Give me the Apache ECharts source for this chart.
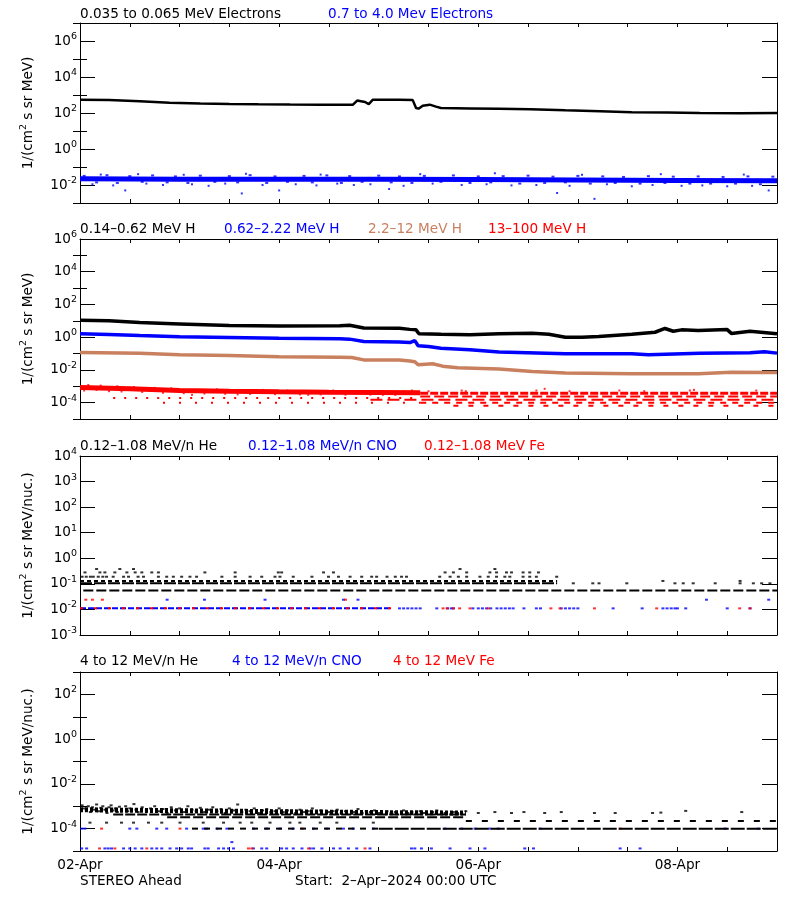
<!DOCTYPE html>
<html><head><meta charset="utf-8">
<script src="https://cdn.jsdelivr.net/npm/echarts@6/dist/echarts.min.js"></script>
<style>html,body{margin:0;padding:0;background:#fff}#c{width:800px;height:900px}</style>
</head><body><div id="c"></div>
<script>
// ================= DATA (hours since 2-Apr-2024 00:00 UTC, values in 1/(cm2 s sr MeV[/nuc]) ) =================
// Panel 1: electrons
const elecLoH = [0,7,14.4,21.6,29,36,43,50.6,58,64,65.8,66.8,68.7,69.6,70.6,77,80.2,81,81.6,82.6,84.3,85.8,87,94,101,108.5,117,125.4,133,141.5,149.4,159,168];
const elecLoV = [550,520,450,370,340,318,305,295,290,290,290,490,410,310,550,550,520,190,174,255,290,225,190,180,170,160,140,125,110,105,100,98,100];
const elecHiH = [0,24,48,72,96,120,144,168];
const elecHiV = [0.022,0.021,0.021,0.021,0.020,0.019,0.018,0.017];
const elecHiOutH = [10.9,39,48,74.5,115,124,166,3,8,16,20,27,31,35,44,52,57,62,66,70,78,85,92,98,104,110,118,127,133,138,145,150,156,162,5,14,25,40,58,82,100,121,140,160];
const elecHiOutV = [0.005,0.0034,0.005,0.006,0.0036,0.0017,0.005,0.011,0.0095,0.012,0.01,0.011,0.009,0.012,0.01,0.011,0.0095,0.012,0.01,0.011,0.009,0.012,0.01,0.011,0.0095,0.01,0.009,0.011,0.0085,0.01,0.009,0.0095,0.0085,0.009,0.038,0.04,0.037,0.042,0.038,0.04,0.045,0.037,0.04,0.038];
const elecHiSpkH = [1,4,6.5,9,12,15,17.5,21,23,26,29,32.5,36,38,41,45,47,50,54,56,59.5,63,65,68,72,75,77,80,83,87,90,94,96,99,102,106,108,112,114,117,120,123,126,129,131,135,137,141,143,147,149,152,155,158,161,164,167];
const elecHiSpkV = [0.032,0.014,0.035,0.013,0.031,0.015,0.034,0.014,0.03,0.013,0.033,0.015,0.031,0.014,0.035,0.013,0.03,0.015,0.032,0.014,0.034,0.013,0.031,0.015,0.033,0.014,0.03,0.013,0.032,0.015,0.034,0.013,0.03,0.014,0.031,0.012,0.033,0.013,0.029,0.014,0.032,0.012,0.03,0.013,0.028,0.012,0.031,0.013,0.029,0.012,0.03,0.012,0.028,0.012,0.03,0.011,0.029];

// Panel 2: protons
const hLoH = [0,7,14.4,24,36,48,62.6,65,68.4,77,79.5,81,81.7,87,94,101,109,113,117,121,125,133,138.6,141,143,145,149,156,157,161.5,168];
const hLoV = [11,10,7.8,6.5,5.1,4.8,5.0,5.4,3.6,3.5,3.0,2.8,1.6,1.5,1.4,1.6,1.75,1.5,1.0,1.0,1.1,1.5,2.0,3.4,2.3,2.8,2.6,2.9,1.7,2.3,1.6];
const hMidH = [0,7,14.4,24,36,48,62.6,65,68.4,77,79.5,80.7,81.5,84,87,94,101,117,133,137,149.4,161.5,165,168];
const hMidV = [1.6,1.45,1.25,1.05,0.95,0.85,0.8,0.76,0.55,0.5,0.47,0.62,0.3,0.27,0.21,0.17,0.125,0.098,0.096,0.085,0.106,0.112,0.13,0.106];
const hHiH = [0,14.4,24,36,48,62.6,65.5,68.4,77,79.5,80.7,81.5,85,87.4,91,101,109,117,133,149,157,168];
const hHiV = [0.115,0.106,0.085,0.075,0.063,0.060,0.057,0.041,0.040,0.035,0.032,0.0205,0.024,0.017,0.0135,0.0112,0.008,0.0064,0.0058,0.0058,0.0073,0.007];
const hTopBandH = [0,12,24,36,48,60,72,82];
const hTopBandV = [8.5e-4,7e-4,5.5e-4,5e-4,4.6e-4,4.3e-4,4.2e-4,4e-4];
const hTopRowLevel = [3.8e-4,2.4e-4,1.5e-4,1.0e-4,6.5e-5,1.9e-4,1.0e-4];
const hTopRowStart = [82,82,70,82,90,8,20];
const hTopRowEnd   = [168,168,168,168,168,82,82];
const hTopSpkH = [2,5,9,13,18,22,27,33,38,44,50,55,61,67,73,78,80,84,92,93,110,112,118,130,136,147,148,163,1,4,7,10,15,20,25,30,35,41,47,53,58,64,70,76];
const hTopSpkV = [1.2e-3,1.1e-3,1.0e-3,9e-4,8e-4,7.5e-4,3e-4,6.5e-4,3.2e-4,6e-4,5.5e-4,3e-4,5.5e-4,5e-4,3e-4,5e-4,5.5e-4,5e-4,5.5e-4,5e-4,5.5e-4,7e-4,5e-4,5.5e-4,5e-4,5.5e-4,6e-4,5.5e-4,5.5e-4,6e-4,5e-4,4.8e-4,4.5e-4,4e-4,3.8e-4,3.6e-4,3.5e-4,3.4e-4,3.3e-4,3.2e-4,3.2e-4,3.1e-4,3.1e-4,3e-4];

// Panel 3: 0.12-1.08 MeV/n heavy ions
const heLowRowLevel = [0.055,0.105,0.13];
const heLowRowStart = [0.8,0,0];
const heLowRowEnd   = [168,115,115];
const heLow105H = [118.9,123.6,125.1,131.8,143.4,145.4,147.8,153.1,159.1,162.3,164.3,166.3];
const heLow013H = [140.5,159.1];
const heLow019H = [0.5,1.5,2.5,3.2,4.4,5.5,6.4,8,10.5,11.7,14,15.3,18.9,20.9,22.5,24.5,26.5,28.1,34.2,37.4,41,43.8,47,48.2,51.4,55.9,59.9,62.3,65.1,67.9,70.3,71.5,74,76,77.5,78.7,86.7,89.2,91.2,93.2,96.4,98.4,100.4,102.4,103.6,106.8,108.4,110,114.9];
const heLow028H = [1.2,4.8,6,8.4,11.3,13.3,14.9,17.3,18.9,30.1,37.4,47.8,48.6,58.7,61.1,88,90,93.2,98.8,100.4,102.8,104,106.8,108.4,110.5];
const heLow038H = [4,9.6,12.9,91.6,100];
const cnoLowDense = [0,75];          // hours with near-continuous 0.011 points
const cnoLow011H = [77,78,79,80,81,82,86,88.6,89.5,90,94.7,96,97,98,99,100.5,101.5,102.5,103.5,104.4,107,110,111,116,117,118,119,120,128.5,135.5,140.5,141.5,142.5,143.4,144,146,156,161.5];
const cnoLow024H = [21,30,44.6,63.5,67,151,166];
const feLow011H = [87.5,88.5,90,91.5,94,98.4,113.5,115.7,124,139,159,161.5];
const feLow024H = [1.4,3,5.4,64];

// Panel 4: 4-12 MeV/n heavy ions
const heHiBandH = [0,24,48,72,93];
const heHiBandV = [7e-4,6.3e-4,5.7e-4,5.2e-4,5e-4];
const heHiCloudH = [0.5,1,1.5,2,2.5,3,3.5,4,4.5,5,5.5,6,6.5,7,7.5,8,8.5,9,9.5,10,11,11.5,12,13,13.5,14,15,16,17,18,19,20,21,22,23,24,25,26,27,28,29,30,31,32,33,34,35,36,37,38,39,40,41,42,43,44,45,46,47,48,49,50,52,53,54,55,56,57,58,60,61,62,63,64,66,67,68,69,70,71,72,74,75,76,78,79,80,82,83,85,86,88,90,91,93,96,100,104,107,112,116,124,129,138,140,146,159.5];
const heHiCloudV = [1.1e-3,8e-4,6.5e-4,1.0e-3,5.5e-4,9e-4,7e-4,1.2e-3,6e-4,8.5e-4,1.0e-3,7e-4,5e-4,9e-4,1.1e-3,6.5e-4,8e-4,5.5e-4,9.5e-4,7e-4,1.0e-3,6e-4,8e-4,1.25e-3,7e-4,5.5e-4,9e-4,6.5e-4,8e-4,1.0e-3,6e-4,7.5e-4,5e-4,9e-4,6.5e-4,8e-4,5.5e-4,1.0e-3,7e-4,6e-4,8.5e-4,5.5e-4,7e-4,9e-4,6e-4,7.5e-4,5e-4,8e-4,6.5e-4,1.2e-3,5.5e-4,7e-4,6e-4,8e-4,5e-4,6.5e-4,7.5e-4,5.5e-4,6e-4,8e-4,5.5e-4,6.5e-4,5e-4,7e-4,5.5e-4,6e-4,8e-4,5e-4,6.5e-4,5.5e-4,6e-4,7e-4,5e-4,6e-4,5.5e-4,7.5e-4,5e-4,6e-4,5.5e-4,6.5e-4,5e-4,6e-4,5e-4,5.5e-4,6.5e-4,5e-4,5.5e-4,6e-4,5e-4,5.5e-4,6.5e-4,5e-4,5.5e-4,5e-4,6e-4,5e-4,5.5e-4,5e-4,5.5e-4,5e-4,5.5e-4,5e-4,5e-4,5e-4,5.2e-4,6.2e-4,5.5e-4];
const heHiRowLevel = [4.3e-4,3.2e-4,2.2e-4,1.0e-4,1.0e-4];
const heHiRowStart = [8,21,93,27,72];
const heHiRowEnd   = [93,93,168,72,168];
const heHi185H = [2.4,6.4,10,12.9,16.5,19.7,24.1,29.7,34.6,38.6,41.4,45.8,50.6,53,57.9,61.9,70.7];
const cnoHi1e4H = [0.4,1.2,12,13.7,18.5,20.9,25.7,29.7,30.5,33,35.4,41.8,45,48.2,51.4,56.3,59.5,63.5,65.9,70.7,88,92,95.2,98.8,100.8,110.9,155.5,163.5];
const cnoHi13H = [0.4,1.6,6,6.8,7.6,10.5,12,13.3,14.9,17.3,18.5,19.7,21.7,23.3,24.5,26.1,26.9,30.1,30.9,33.4,34.6,35.8,37,41.8,43.8,45,48.6,49.8,51.4,53.5,55.5,56.3,58.3,61.1,62.7,64.7,66.7,69.9,79.9,80.7,82.3,84.7,89.2,94,97.6,107.2,109.3,130.2,135];
const cnoHi25H = [36.6];
const feHi1e4H = [5.2,24.1,53.5,130.2];
const feHi13H = [4.7,8.4,16.1,40.6,41.4,55.1,68.7];

const dayTicks = [0,48,96,144];
const dayLabels = ['02-Apr','04-Apr','06-Apr','08-Apr'];

// ================= CHART =================
const FONT = '"DejaVu Sans", sans-serif';
const FS = 13.6;
const BLUE = '#0000ff', RED = '#ff0000', BROWN = '#c9805f', BLACK = '#000000';
const L = Math.log10;
const toPts = (hs, vs) => hs.map((h, i) => [h, L(vs[i])]);
const flat = (hs, v) => hs.map(h => [h, L(v)]);
const seg = (a, b, v) => [[a, L(v)], [b, L(v)]];

const panels = [
  {top: 23,  height: 180, min: -3, max: 7, major: [-2,0,2,4,6],           minor: [-3,-1,1,3,5,7], unit: 'MeV'},
  {top: 239, height: 180, min: -5, max: 6, major: [-4,-2,0,2,4,6],        minor: [-5,-3,-1,1,3,5], unit: 'MeV'},
  {top: 456, height: 179, min: -3, max: 4, major: [-3,-2,-1,0,1,2,3,4],   minor: [], unit: 'MeV/nuc.'},
  {top: 672, height: 179, min: -5, max: 3, major: [-4,-2,0,2],            minor: [-5,-3,-1,1,3], unit: 'MeV/nuc.'}
];

const rich = {
  b: {fontFamily: FONT, fontSize: FS, color: BLACK},
  n: {fontFamily: FONT, fontSize: FS, color: BLACK},
  e: {fontFamily: FONT, fontSize: 9.5, color: BLACK, padding: [0, 0, 9, 0]}
};

const grids = [], xAxes = [], yAxes = [];
panels.forEach((p, i) => {
  grids.push({left: 80, width: 697, top: p.top, height: p.height});
  const xBase = {
    gridIndex: i, type: 'value', min: 0, max: 168, interval: 12,
    axisLine: {show: true, onZero: false, lineStyle: {color: BLACK, width: 1}},
    axisTick: {show: true, inside: true, length: 4, lineStyle: {color: BLACK}},
    splitLine: {show: false}
  };
  xAxes.push(Object.assign({}, xBase, {
    position: 'bottom',
    axisLabel: i === 3 ? {
      show: true, customValues: dayTicks, margin: 7, color: BLACK, fontFamily: FONT, fontSize: FS,
      formatter: v => dayLabels[dayTicks.indexOf(Math.round(v))] || ''
    } : {show: false}
  }));
  xAxes.push(Object.assign({}, xBase, {position: 'top', axisLabel: {show: false}}));

  const yBase = {gridIndex: i, type: 'value', min: p.min, max: p.max, interval: 1,
    splitLine: {show: false}, axisLine: {show: true, onZero: false, lineStyle: {color: BLACK, width: 1}}};
  const major = side => Object.assign({}, yBase, {
    position: side,
    axisTick: {show: true, inside: true, length: 15, customValues: p.major, lineStyle: {color: BLACK}},
    axisLabel: side === 'left' ? {show: true, customValues: p.major, margin: 3, rich: rich,
      formatter: v => '{b|10}{e|' + Math.round(v) + '}'} : {show: false}
  });
  const minor = side => Object.assign({}, yBase, {
    position: side, axisLine: {show: false},
    axisTick: p.minor.length ? {show: true, inside: true, length: 7, customValues: p.minor, lineStyle: {color: BLACK}} : {show: false},
    axisLabel: {show: false}
  });
  const left = major('left');
  left.name = '{n|1/(cm}{e|2}{n| s sr ' + p.unit + ')}';
  left.nameLocation = 'middle';
  left.nameGap = 42;
  left.nameRotate = 90;
  left.nameTextStyle = {fontFamily: FONT, fontSize: FS, color: BLACK, rich: rich};
  yAxes.push(left, minor('left'), major('right'), minor('right'));
});

const series = [];
function addLine(g, data, color, width, dash) {
  series.push({type: 'line', xAxisIndex: 2 * g, yAxisIndex: 4 * g, data: data, symbol: 'none',
    silent: true, animation: false, lineStyle: {color: color, width: width, type: dash || 'solid', cap: 'butt'}});
}
function addPts(g, data, color, size) {
  series.push({type: 'scatter', xAxisIndex: 2 * g, yAxisIndex: 4 * g, data: data, symbol: 'rect',
    symbolSize: size || [2, 2], silent: true, animation: false, itemStyle: {color: color}});
}

// Panel 1
addLine(0, toPts(elecHiH, elecHiV), BLUE, 5);
addPts(0, toPts(elecHiSpkH, elecHiSpkV), BLUE, [3, 2]);
addPts(0, toPts(elecHiOutH, elecHiOutV), BLUE, [2, 2]);
addLine(0, toPts(elecLoH, elecLoV), BLACK, 2.5);

// Panel 2
addLine(1, toPts(hTopBandH, hTopBandV), RED, 5);
const redRowStyle = [[3, [8, 2]], [2, [10, 4]], [2, [12, 5]], [2, [6, 6]], [2, [5, 10]], [2, [2, 9]], [2, [2, 14]]];
hTopRowLevel.forEach((v, k) => addLine(1, seg(hTopRowStart[k], hTopRowEnd[k], v), RED, redRowStyle[k][0], redRowStyle[k][1]));
addPts(1, toPts(hTopSpkH, hTopSpkV), RED, [2, 2]);
addLine(1, toPts(hHiH, hHiV), BROWN, 3.5);
addLine(1, toPts(hMidH, hMidV), BLUE, 3.5);
addLine(1, toPts(hLoH, hLoV), BLACK, 3.5);

// Panel 3
const heRowStyle = [[2, [10, 3]], [2, [12, 2]], [2, [4, 3]]];
heLowRowLevel.forEach((v, k) => addLine(2, seg(heLowRowStart[k], heLowRowEnd[k], v), BLACK, heRowStyle[k][0], heRowStyle[k][1]));
addPts(2, flat(heLow105H, 0.105), BLACK, [3, 2]);
addPts(2, flat(heLow013H, 0.13), BLACK, [3, 2]);
addPts(2, flat(heLow019H, 0.19), BLACK, [3, 2]);
addPts(2, flat(heLow028H, 0.28), BLACK, [3, 2]);
addPts(2, flat(heLow038H, 0.38), BLACK, [3, 2]);
addLine(2, seg(cnoLowDense[0], cnoLowDense[1], 0.011), BLUE, 2, [6, 2]);
addLine(2, seg(cnoLowDense[0], cnoLowDense[1], 0.011), RED, 2, [3, 11]);
addPts(2, flat(cnoLow011H, 0.011), BLUE, [3, 2]);
addPts(2, flat(cnoLow024H, 0.024), BLUE, [3, 2]);
addPts(2, flat(feLow011H, 0.011), RED, [3, 2]);
addPts(2, flat(feLow024H, 0.024), RED, [3, 2]);

// Panel 4
addLine(3, toPts(heHiBandH, heHiBandV), BLACK, 5, [3, 2]);
addPts(3, toPts(heHiCloudH, heHiCloudV), BLACK, [3, 2]);
const heHiRowStyle = [[2, [10, 2]], [2, [10, 3]], [2, [6, 10]], [2, [6, 6]], [2, [14, 2]]];
heHiRowLevel.forEach((v, k) => addLine(3, seg(heHiRowStart[k], heHiRowEnd[k], v), BLACK, heHiRowStyle[k][0], heHiRowStyle[k][1]));
addPts(3, flat(heHi185H, 1.85e-4), BLACK, [3, 2]);
addPts(3, flat(cnoHi1e4H, 1.0e-4), BLUE, [3, 2]);
addPts(3, flat(cnoHi13H, 1.3e-5), BLUE, [3, 2]);
addPts(3, flat(cnoHi25H, 2.5e-5), BLUE, [3, 2]);
addPts(3, flat(feHi1e4H, 1.0e-4), RED, [3, 2]);
addPts(3, flat(feHi13H, 1.3e-5), RED, [3, 2]);

// Titles
const txt = (x, y, s, c) => ({type: 'text', x: x, y: y, silent: true,
  style: {text: s, fill: c, font: FS + 'px ' + FONT, verticalAlign: 'middle', align: 'left'}});
const graphic = [
  txt(80, 14, '0.035 to 0.065 MeV Electrons', BLACK), txt(328, 14, '0.7 to 4.0 Mev Electrons', BLUE),
  txt(80, 229, '0.14\u20130.62 MeV H', BLACK), txt(224, 229, '0.62\u20132.22 MeV H', BLUE),
  txt(368, 229, '2.2\u201312 MeV H', BROWN), txt(488, 229, '13\u2013100 MeV H', RED),
  txt(80, 446, '0.12\u20131.08 MeV/n He', BLACK), txt(248, 446, '0.12\u20131.08 MeV/n CNO', BLUE),
  txt(424, 446, '0.12\u20131.08 MeV Fe', RED),
  txt(80, 661, '4 to 12 MeV/n He', BLACK), txt(232, 661, '4 to 12 MeV/n CNO', BLUE), txt(393, 661, '4 to 12 MeV Fe', RED),
  txt(80, 881, 'STEREO Ahead', BLACK), txt(295, 881, 'Start:  2\u2013Apr\u20132024 00:00 UTC', BLACK)
];

const chart = echarts.init(document.getElementById('c'), null, {renderer: 'canvas'});
chart.setOption({
  animation: false,
  backgroundColor: '#ffffff',
  textStyle: {fontFamily: FONT},
  grid: grids, xAxis: xAxes, yAxis: yAxes, series: series, graphic: graphic
});
</script></body></html>
